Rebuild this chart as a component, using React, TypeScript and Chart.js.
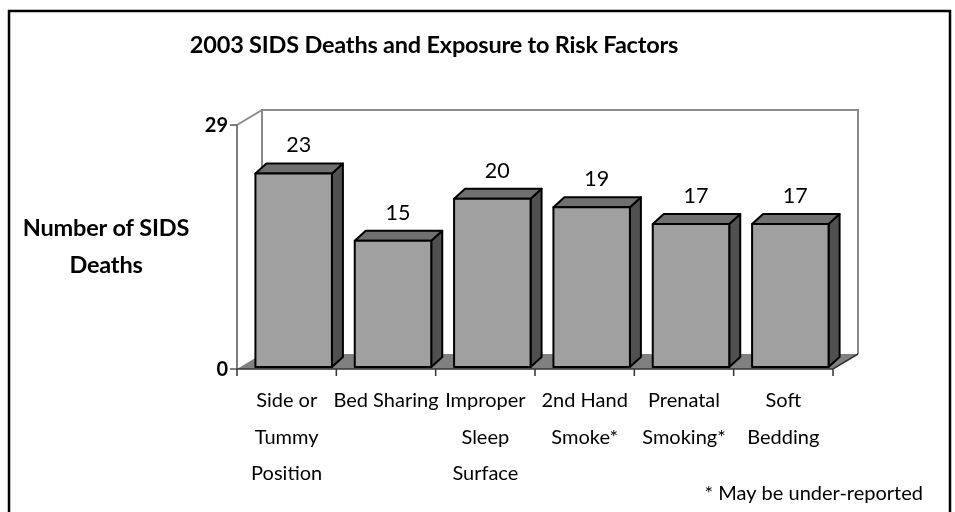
import React, { useEffect, useRef } from "react";
import { Chart, registerables } from "chart.js";

Chart.register(...registerables);

const categories: string[][] = [
  ["Side or", "Tummy", "Position"],
  ["Bed Sharing"],
  ["Improper", "Sleep", "Surface"],
  ["2nd Hand", "Smoke*"],
  ["Prenatal", "Smoking*"],
  ["Soft", "Bedding"],
];
const deaths: number[] = [23, 15, 20, 19, 17, 17];
const yTickValues: number[] = [0, 29];
const titleText = "2003 SIDS Deaths and Exposure to Risk Factors";
const yTitleLines: string[] = ["Number of SIDS", "Deaths"];
const footnote = "* May be under-reported";

const FONT = "Lato, 'Open Sans', sans-serif";

const depthPlugin = {
  id: "depth3d",
  afterDraw(chart: any) {
    const ctx: CanvasRenderingContext2D = chart.ctx;
    const xs = chart.scales.x;
    const ys = chart.scales.y;
    const area = chart.chartArea;
    const xL = area.left;
    const xR = area.right;
    const yT = ys.getPixelForValue(yTickValues[1]);
    const yB = ys.getPixelForValue(yTickValues[0]);
    const DX = 25;
    const DY = -15;

    ctx.save();
    // outer border
    ctx.strokeStyle = "#000";
    ctx.lineWidth = 2.5;
    ctx.strokeRect(9, 11, 941, 520);

    // title
    ctx.fillStyle = "#000";
    ctx.font = `bold 23.5px ${FONT}`;
    (ctx as any).letterSpacing = "-0.2px";
    ctx.textAlign = "center";
    ctx.textBaseline = "middle";
    ctx.fillText(titleText, 434, 45);

    // y title
    ctx.font = `bold 23.5px ${FONT}`;
    (ctx as any).letterSpacing = "-0.2px";
    ctx.fillText(yTitleLines[0], 106, 228);
    ctx.fillText(yTitleLines[1], 106, 265);
    (ctx as any).letterSpacing = "0px";

    // floor
    ctx.fillStyle = "#808080";
    ctx.beginPath();
    ctx.moveTo(xL, yB);
    ctx.lineTo(xR, yB);
    ctx.lineTo(xR + DX, yB + DY);
    ctx.lineTo(xL + DX, yB + DY);
    ctx.closePath();
    ctx.fill();

    // back walls
    ctx.strokeStyle = "#8a8a8a";
    ctx.lineWidth = 2;
    ctx.beginPath();
    ctx.moveTo(xL + DX, yB + DY);
    ctx.lineTo(xL + DX, yT + DY);
    ctx.lineTo(xR + DX, yT + DY);
    ctx.lineTo(xR + DX, yB + DY);
    ctx.moveTo(xL, yT);
    ctx.lineTo(xL + DX, yT + DY);
    ctx.stroke();

    // y axis
    ctx.strokeStyle = "#555";
    ctx.lineWidth = 1.5;
    ctx.beginPath();
    ctx.moveTo(xL, yT);
    ctx.lineTo(xL, yB);
    yTickValues.forEach((v) => {
      const py = ys.getPixelForValue(v);
      ctx.moveTo(xL - 7, py);
      ctx.lineTo(xL, py);
    });
    ctx.stroke();

    // x axis line + ticks
    ctx.strokeStyle = "#333";
    ctx.lineWidth = 1.5;
    ctx.beginPath();
    ctx.moveTo(xL, yB);
    ctx.lineTo(xR, yB);
    ctx.lineTo(xR + DX, yB + DY);
    const n = categories.length;
    const w = (xR - xL) / n;
    for (let i = 0; i <= n; i++) {
      const px = xL + i * w;
      ctx.moveTo(px, yB);
      ctx.lineTo(px, yB + 7);
    }
    ctx.stroke();

    // y tick labels
    ctx.fillStyle = "#000";
    ctx.font = `bold 20px ${FONT}`;
    ctx.textAlign = "right";
    yTickValues.forEach((v) => {
      ctx.fillText(String(v), xL - 9, ys.getPixelForValue(v) + 1);
    });

    // bars
    const meta = chart.getDatasetMeta(0);
    const BDX = 11;
    const BDY = -10;
    meta.data.forEach((el: any, i: number) => {
      const cx = el.x + 7;
      const half = el.width / 2;
      const left = cx - half;
      const right = cx + half;
      const top = el.y - 2;
      const bottom = el.base - 2;
      ctx.lineWidth = 2;
      ctx.strokeStyle = "#000";
      ctx.lineJoin = "round";
      // side
      ctx.fillStyle = "#505050";
      ctx.beginPath();
      ctx.moveTo(right, bottom);
      ctx.lineTo(right + BDX, bottom + BDY);
      ctx.lineTo(right + BDX, top + BDY);
      ctx.lineTo(right, top);
      ctx.closePath();
      ctx.fill();
      ctx.stroke();
      // top
      ctx.fillStyle = "#707070";
      ctx.beginPath();
      ctx.moveTo(left, top);
      ctx.lineTo(left + BDX, top + BDY);
      ctx.lineTo(right + BDX, top + BDY);
      ctx.lineTo(right, top);
      ctx.closePath();
      ctx.fill();
      ctx.stroke();
      // front
      ctx.fillStyle = "#a0a0a0";
      ctx.fillRect(left, top, right - left, bottom - top);
      ctx.strokeRect(left, top, right - left, bottom - top);

      // value label
      ctx.fillStyle = "#000";
      ctx.font = `21.5px ${FONT}`;
      ctx.textAlign = "center";
      ctx.textBaseline = "middle";
      ctx.fillText(String(deaths[i]), cx + 5, top - 28);
    });

    // category labels
    ctx.fillStyle = "#000";
    ctx.font = `20px ${FONT}`;
    ctx.textAlign = "center";
    ctx.textBaseline = "middle";
    categories.forEach((lines, i) => {
      const px = xs.getPixelForValue(i);
      lines.forEach((t, j) => {
        ctx.fillText(t, px, yB + 32 + j * 36.5);
      });
    });

    // footnote
    ctx.font = `20px ${FONT}`;
    ctx.textAlign = "right";
    ctx.fillText(footnote, 923, 494);
    ctx.restore();
  },
};

export default function App() {
  const ref = useRef<HTMLCanvasElement | null>(null);
  useEffect(() => {
    if (!ref.current) return;
    const chart = new Chart(ref.current, {
      type: "bar",
      data: {
        labels: categories.map((c) => c.join(" ")),
        datasets: [
          {
            data: deaths,
            backgroundColor: "rgba(0,0,0,0)",
            borderWidth: 0,
            barPercentage: 0.77,
            categoryPercentage: 1,
          },
        ],
      },
      options: {
        responsive: false,
        animation: false,
        devicePixelRatio: 1,
        layout: { padding: { left: 237, right: 122, top: 125, bottom: 143 } },
        scales: {
          x: { type: "category", display: false },
          y: { type: "linear", display: false, min: yTickValues[0], max: yTickValues[1] },
        },
        plugins: { legend: { display: false }, tooltip: { enabled: false }, title: { display: false } },
      },
      plugins: [depthPlugin],
    });
    return () => chart.destroy();
  }, []);
  return (
    <div style={{ position: "fixed", left: 0, top: 0, width: 955, height: 512, background: "#fff" }}>
      <canvas ref={ref} width={955} height={512} />
    </div>
  );
}
